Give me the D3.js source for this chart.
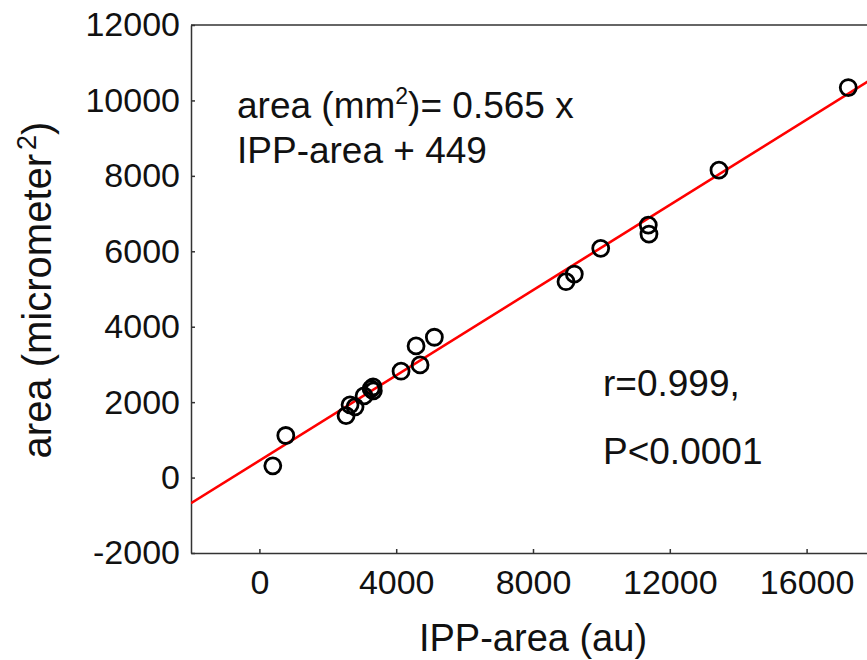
<!DOCTYPE html>
<html>
<head>
<meta charset="utf-8">
<script src="https://cdn.jsdelivr.net/npm/d3@7"></script>
<style>
  html, body { margin: 0; padding: 0; background: #fff; }
  svg { display: block; }
</style>
</head>
<body>
<div id="chart"></div>
<script>
// IPP-area (au) vs measured area
const ippArea = [392, 772, 2534, 2651, 2797, 3060, 3265, 3324, 3332, 4142, 4581, 4698, 5116, 8965, 9208, 9980, 11371, 11391, 13438, 17218];
const area    = [312, 1115, 1642, 1928, 1875, 2166, 2352, 2405, 2299, 2820, 3490, 2987, 3721, 5193, 5397, 6078, 6695, 6457, 8151, 10342];
const xTicks = [0, 4000, 8000, 12000, 16000];
const yTicks = [-2000, 0, 2000, 4000, 6000, 8000, 10000, 12000];
const slope = 0.565, intercept = 449;

const W = 867, H = 660;
const margin = { top: 25, right: -8, bottom: 107, left: 191 };
const iw = W - margin.left - margin.right, ih = H - margin.top - margin.bottom;
const font = '"Liberation Sans", Arial, sans-serif';

const svg = d3.select('#chart').append('svg').attr('width', W).attr('height', H);
const g = svg.append('g').attr('transform', `translate(${margin.left},${margin.top})`);

const x = d3.scaleLinear().domain([-2000, 18000]).range([0, iw]);
const y = d3.scaleLinear().domain([-2000, 12000]).range([ih, 0]);

// frame: top line + axes
g.append('line').attr('x1', 0).attr('x2', iw).attr('y1', 0).attr('y2', 0)
  .attr('stroke', '#333').attr('stroke-width', 1.5);

const xAxis = g.append('g').attr('transform', `translate(0,${ih})`)
  .call(d3.axisBottom(x).tickValues(xTicks).tickSizeInner(-4).tickSizeOuter(0).tickPadding(17).tickFormat(d3.format('d')));
const yAxis = g.append('g')
  .call(d3.axisLeft(y).tickValues(yTicks).tickSizeInner(-4).tickSizeOuter(0).tickPadding(11).tickFormat(d3.format('d')));

[xAxis, yAxis].forEach(a => {
  a.select('.domain').attr('stroke', '#333').attr('stroke-width', 1.5);
  a.selectAll('.tick line').attr('stroke', '#333').attr('stroke-width', 1.5);
  a.selectAll('.tick text').attr('fill', '#111').attr('font-size', 34).attr('font-family', font);
});
xAxis.selectAll('.tick text').attr('dy', '0.71em');
yAxis.selectAll('.tick text').text(d => d < 0 ? '-' + Math.abs(d) : d);

// regression line
svg.append('clipPath').attr('id', 'plotClip').append('rect')
  .attr('width', iw).attr('height', ih);
g.append('line')
  .attr('clip-path', 'url(#plotClip)')
  .attr('x1', x(-2000)).attr('y1', y(slope * -2000 + intercept))
  .attr('x2', x(18000)).attr('y2', y(slope * 18000 + intercept))
  .attr('stroke', '#f00').attr('stroke-width', 2.6);

// points
g.selectAll('circle').data(ippArea).join('circle')
  .attr('cx', d => x(d)).attr('cy', (d, i) => y(area[i]))
  .attr('r', 8).attr('fill', 'none').attr('stroke', '#000').attr('stroke-width', 2.8);

// annotations
const annSize = 37;
const ann1 = svg.append('text').attr('x', 237).attr('y', 118)
  .attr('font-size', annSize).attr('font-family', font).attr('fill', '#111');
ann1.append('tspan').text('area (mm');
ann1.append('tspan').attr('font-size', 23).attr('dy', -14).text('2');
ann1.append('tspan').attr('dy', 14).text(')= 0.565 x');
svg.append('text').attr('x', 237).attr('y', 163).attr('font-size', annSize).attr('font-family', font).attr('fill', '#111')
  .text('IPP-area + 449');

svg.append('text').attr('x', 603).attr('y', 396).attr('font-size', annSize).attr('font-family', font).attr('fill', '#111')
  .text('r=0.999,');
svg.append('text').attr('x', 603).attr('y', 464).attr('font-size', annSize).attr('font-family', font).attr('fill', '#111')
  .text('P<0.0001');

// axis titles
svg.append('text').attr('x', 533).attr('y', 651).attr('text-anchor', 'middle')
  .attr('font-size', 38).attr('font-family', font).attr('fill', '#111')
  .text('IPP-area (au)');

const yt = svg.append('text').attr('transform', 'translate(51,290) rotate(-90)').attr('text-anchor', 'middle')
  .attr('font-size', 40).attr('font-family', font).attr('fill', '#111');
yt.append('tspan').text('area (micrometer');
yt.append('tspan').attr('font-size', 27).attr('dx', 4).attr('dy', -15).text('2');
yt.append('tspan').attr('dy', 15).text(')');
</script>
</body>
</html>
